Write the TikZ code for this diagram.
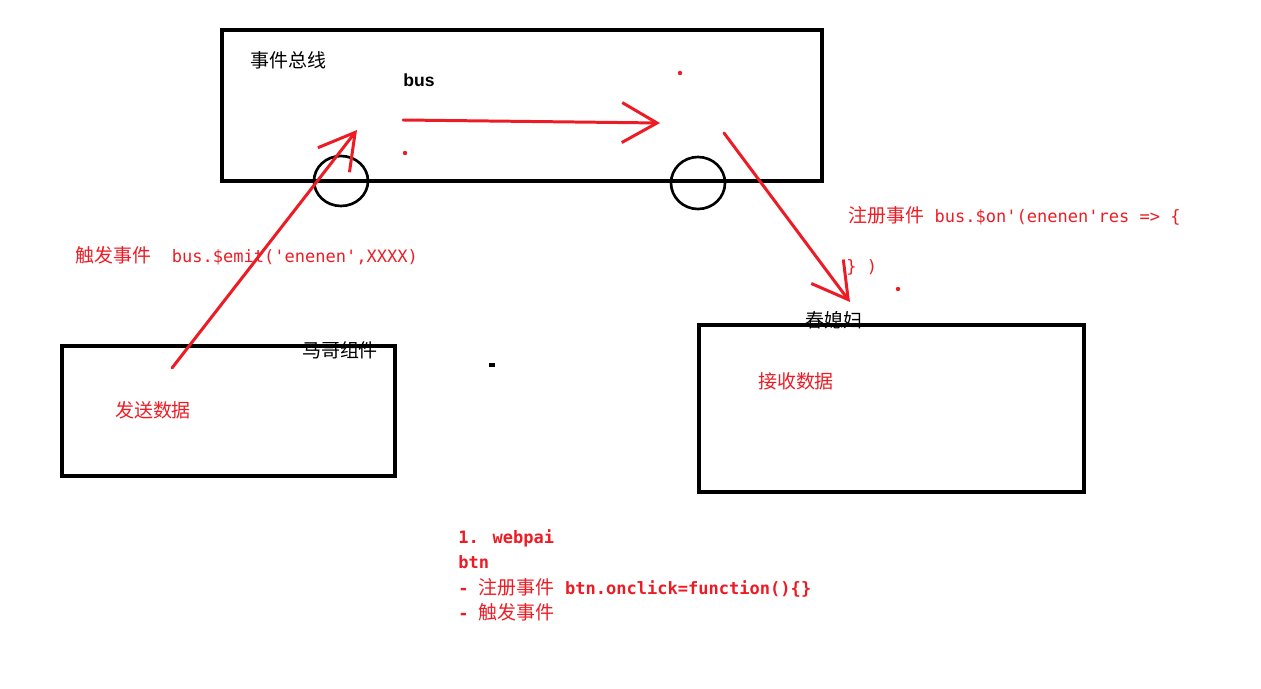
\documentclass[tikz,border=0pt]{standalone}
\usepackage{fontspec}
\usepackage{tikz}
\usetikzlibrary{positioning,arrows.meta}
\newfontfamily\cjk{Noto Sans CJK SC}
\newfontfamily\code{DejaVu Sans Mono}
\newfontfamily\lsans{Liberation Sans}
\definecolor{evRed}{RGB}{237,28,36}
\definecolor{evBlack}{RGB}{0,0,0}
\newcommand{\zh}[1]{{\cjk\mdseries\fontsize{10.8}{14.2}\selectfont #1}}
\newcommand{\sq}{\textquotesingle}

\begin{document}
\begin{tikzpicture}[x=0.02cm, y=-0.02cm,
  box/.style={draw=evBlack, line width=1.9pt, minimum width=#1, inner sep=0pt},
  wheel/.style={draw=evBlack, line width=1.5pt},
  redarrow/.style={evRed, line width=1.7pt, line cap=round,
    -{Straight Barb[length=0.7cm, width=0.8cm, line width=1.7pt]}},
  cjklabel/.style={font=\cjk\fontsize{10.8}{13}\selectfont, inner sep=0pt},
  codetxt/.style={font=\code\fontsize{9.7}{14.5}\selectfont, inner sep=0pt, anchor=west, text=evRed}]
  \useasboundingbox (0,0) rectangle (1261,689);

  % Event bus
  \node[box=12cm, minimum height=3.02cm] (bus) at (522,105.5) {};
  \draw[wheel] (341,181) ellipse [x radius=27, y radius=25];
  \draw[wheel] (698,183) ellipse [x radius=27, y radius=26];
  \node[cjklabel, anchor=west] (busname) at (250,60) {事件总线};
  \node[font=\lsans\bfseries\fontsize{10}{12}\selectfont, inner sep=0pt, anchor=west] (buslabel) at (403,80) {bus};

  % Components
  \node[box=6.66cm, minimum height=2.6cm] (sender) at (228.5,411) {};
  \node[cjklabel] (sendername) at (340,350) {马哥组件};
  \node[cjklabel, text=evRed] (senddata) at (153,410) {发送数据};

  \node[box=7.7cm, minimum height=3.34cm] (receiver) at (891.5,408.5) {};
  \node[cjklabel] (receivername) at (834,320) {春媳妇};
  \node[cjklabel, text=evRed] (recvdata) at (796,381) {接收数据};

  % Arrows
  \coordinate (emitstart) at (172,368);
  \coordinate (emittip) at (357,130);
  \coordinate (busstart) at (403,120);
  \coordinate (bustip) at (660,123);
  \coordinate (onstart) at (724,133);
  \coordinate (ontip) at (850,302);
  \draw[redarrow] (emitstart) -- (emittip);
  \draw[redarrow] (busstart) -- (bustip);
  \draw[redarrow] (onstart) -- (ontip);

  % Annotations
  \node[codetxt] (emit) at (75,256) {\zh{触发事件}\ \ bus.\$emit(\sq enenen\sq,XXXX)};
  \node[codetxt] (on) at (848,216) {\zh{注册事件}\ bus.\$on\sq(enenen\sq res => \{};
  \node[codetxt] (onclose) at (846,267) {\} )};

  \node[codetxt, align=left, anchor=north west, font=\code\bfseries\fontsize{9.7}{14.5}\selectfont] (webapi) at (458,529) {
    1. webpai\\
    btn\\
    - \zh{注册事件} btn.onclick=function()\{\}\\
    - \zh{触发事件}
  };

  % Stray marks
  \fill[evRed] (680,73) circle (2.2);
  \fill[evRed] (405,153) circle (2.2);
  \fill[evRed] (898,289) circle (2.2);
  \fill[evBlack] (489,363) rectangle (495,367);
\end{tikzpicture}
\end{document}
